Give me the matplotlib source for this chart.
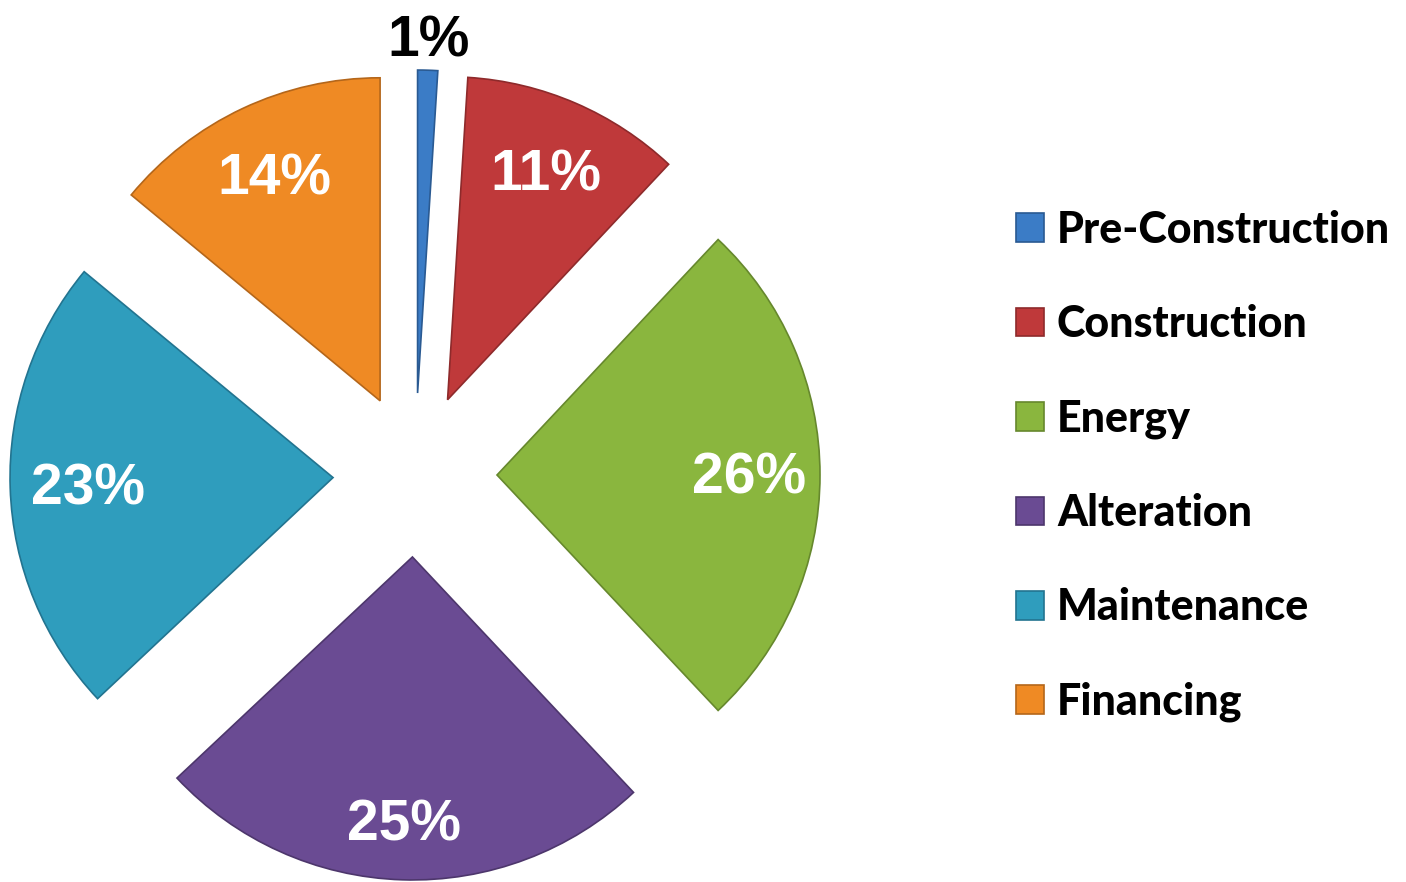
import matplotlib.pyplot as plt
import numpy as np

categories = ["Pre-Construction", "Construction", "Energy", "Alteration",
              "Maintenance", "Financing"]
shares = [1, 11, 26, 25, 23, 14]
colors = ["#3b7cc6", "#bf393a", "#8ab63e", "#6a4b93", "#2f9dbd", "#ef8a24"]
edge_colors = ["#2a5a92", "#8e2a2b", "#66882d", "#4d366c", "#227490", "#b4661a"]
label_dist = [1.10, 0.77, 0.78, 0.82, 0.76, 0.77]

W, H = 1406, 882
fig = plt.figure(figsize=(W / 100, H / 100), dpi=100)
ax = fig.add_axes([0, 0, 1, 1])

cx, cy, r = 415, 407, 323
wedges, texts, autotexts = ax.pie(
    shares, colors=colors, startangle=90, counterclock=False,
    center=(cx, cy), radius=r, explode=[82] * len(shares),
    autopct="%d%%", pctdistance=0.78,
    wedgeprops=dict(linewidth=1.2),
    textprops=dict(color="white", fontsize=41, fontweight="bold",
                   family="Liberation Sans"),
    frame=True,
)
for w, ec in zip(wedges, edge_colors):
    w.set_edgecolor(ec)

# place each percentage label along its wedge's bisector;
# slices too thin to hold text get a black label outside
for w, t, v, d in zip(wedges, autotexts, shares, label_dist):
    th = np.deg2rad(0.5 * (w.theta1 + w.theta2))
    wx, wy = w.center
    t.set_position((wx + d * r * np.cos(th), wy + d * r * np.sin(th) - 4))
    if v < 3:
        t.set_color("black")

ax.set_xlim(0, W)
ax.set_ylim(0, H)
ax.set_aspect("equal")
ax.axis("off")

fig.legend(
    wedges, categories, loc="center left", bbox_to_anchor=(1016 / W, 1 - 466 / H),
    frameon=False, prop=dict(family="Lato", weight="black", size=31),
    handlelength=0.65, handleheight=0.65, handletextpad=0.3, labelspacing=1.26,
    borderaxespad=0, borderpad=0,
)

fig.savefig("out.png", dpi=100)
